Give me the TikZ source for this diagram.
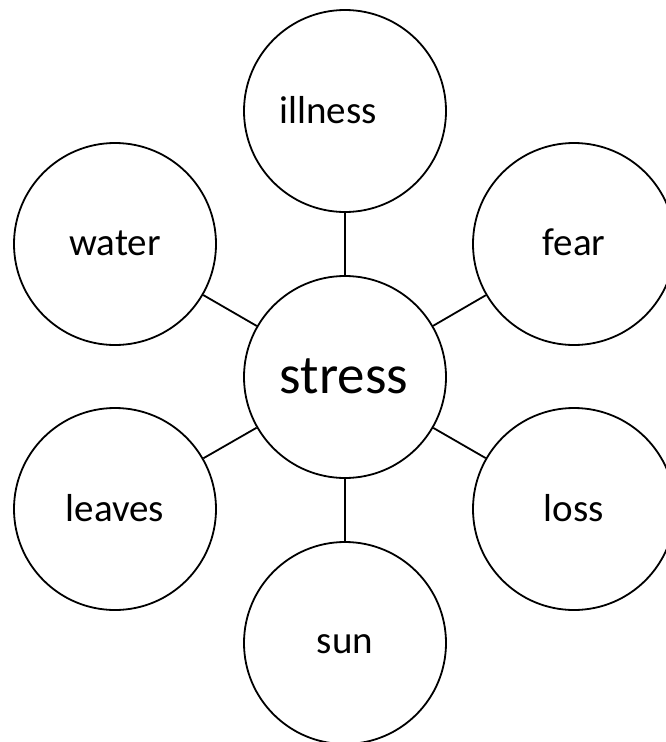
\documentclass[tikz,border=0pt]{standalone}
\usepackage{fontspec}
\setmainfont{Carlito}
\begin{document}
\begin{tikzpicture}[x=1pt,y=-1pt,
  bubble/.style={circle,draw=black,line width=1.8pt,minimum size=202pt,inner sep=0pt,fill=white},
  word/.style={anchor=base,inner sep=0pt,font=\fontsize{39}{42}\selectfont},
  bigword/.style={anchor=base,inner sep=0pt,font=\fontsize{55}{60}\selectfont},
  link/.style={line width=1.8pt,draw=black}]
\useasboundingbox (0,0) rectangle (666,742);
\clip (0,0) rectangle (666,742);
\node[bubble] (stress) at (345,377) {};
\node[bubble] (illness) at (345,111) {};
\node[bubble] (water) at (115,244) {};
\node[bubble] (fear) at (574,244) {};
\node[bubble] (leaves) at (115,509) {};
\node[bubble] (loss) at (574,509) {};
\node[bubble] (sun) at (345,643) {};
\draw[link] (stress) -- (illness);
\draw[link] (stress) -- (water);
\draw[link] (stress) -- (fear);
\draw[link] (stress) -- (leaves);
\draw[link] (stress) -- (loss);
\draw[link] (stress) -- (sun);
\node[bigword] (tstress) at (344,393) {stress};
\node[word] (tillness) at (328,123) {illness};
\node[word] (twater) at (115,255) {water};
\node[word] (tfear) at (574,255) {fear};
\node[word] (tleaves) at (115,521) {leaves};
\node[word] (tloss) at (574,521) {loss};
\node[word] (tsun) at (345,653) {sun};
\end{tikzpicture}
\end{document}
